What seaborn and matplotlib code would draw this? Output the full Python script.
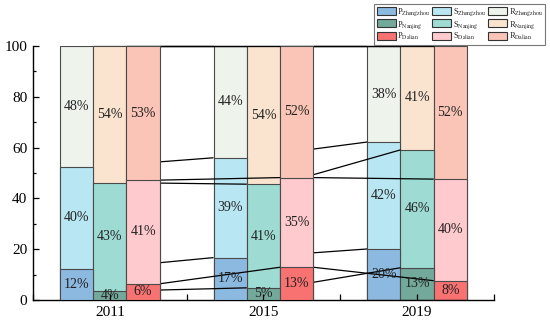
import pandas as pd
import seaborn as sns
import matplotlib.pyplot as plt
from matplotlib.patches import Patch
from matplotlib.ticker import FixedLocator

years = ['2011', '2015', '2019']
cities = ['Zhengzhou', 'Nanjing', 'Dalian']

# shares in % for each city, one value per year
p_zhengzhou = [12.2, 16.7, 20.1]
s_zhengzhou = [40.2, 39.3, 42.1]
r_zhengzhou = [47.6, 44.0, 37.8]
p_nanjing = [3.6, 4.8, 12.7]
s_nanjing = [42.6, 40.8, 46.4]
r_nanjing = [53.8, 54.4, 40.9]
p_dalian = [6.4, 12.9, 7.6]
s_dalian = [40.8, 35.3, 40.0]
r_dalian = [52.8, 51.8, 52.4]

p_colors = {'Zhengzhou': '#8cb9e0', 'Nanjing': '#73a99a', 'Dalian': '#f87272'}
s_colors = {'Zhengzhou': '#b8e6f2', 'Nanjing': '#9ddbd3', 'Dalian': '#fecacd'}
r_colors = {'Zhengzhou': '#eef3ec', 'Nanjing': '#fbe4cf', 'Dalian': '#fac4b6'}

vals = {
    'Zhengzhou': (p_zhengzhou, s_zhengzhou, r_zhengzhou),
    'Nanjing': (p_nanjing, s_nanjing, r_nanjing),
    'Dalian': (p_dalian, s_dalian, r_dalian),
}
rows = []
for c in cities:
    p, s, r = vals[c]
    for i, y in enumerate(years):
        rows.append({'year': y, 'city': c, 'P': p[i], 'S': s[i], 'R': r[i],
                     'ps': p[i] + s[i], 'total': p[i] + s[i] + r[i]})
df = pd.DataFrame(rows)

sns.set_theme(style='ticks')
plt.rcParams['font.family'] = ['Liberation Serif', 'DejaVu Serif']
plt.rcParams['mathtext.fontset'] = 'stix'

fig, ax = plt.subplots(figsize=(5.5, 3.24), dpi=100)
fig.subplots_adjust(left=0.06, right=0.898, bottom=0.074, top=0.858)

W = 0.65
bw = W / 3
edge = '#4a4a4a'
for col, pal in [('total', r_colors), ('ps', s_colors), ('P', p_colors)]:
    sns.barplot(data=df, x='year', y=col, hue='city', order=years, hue_order=cities,
                palette=pal, width=W, gap=0, dodge=True, saturation=1,
                edgecolor=edge, linewidth=0.8, errorbar=None, legend=False, ax=ax)

# earlier years sit on top of the connectors leaving them
zo = [5, 3, 1]
for patch in ax.patches:
    xc = patch.get_x() + patch.get_width() / 2
    patch.set_zorder(zo[int(round(xc))])

# connectors between years
for j, c in enumerate(cities):
    sub = df[df.city == c].set_index('year').loc[years]
    bounds = [sub['P'].values, sub['ps'].values, sub['total'].values]
    for i in range(len(years) - 1):
        x0 = i + (j - 1) * bw + bw / 2
        x1 = i + 1 + (j - 1) * bw - bw / 2
        for b in bounds:
            ax.plot([x0, x1], [b[i], b[i + 1]], color='black', lw=0.9,
                    zorder=[4, 2][i], clip_on=False, solid_capstyle='butt')

# percentage labels
for j, c in enumerate(cities):
    sub = df[df.city == c].set_index('year').loc[years]
    for i, y in enumerate(years):
        p, s, r = sub.loc[y, 'P'], sub.loc[y, 'S'], sub.loc[y, 'R']
        x = i + (j - 1) * bw
        for lo, v in [(0, p), (p, s), (p + s, r)]:
            ax.text(x, lo + v / 2, f'{v:.0f}%', ha='center', va='center',
                    fontsize=10, color='#222222', zorder=10)

ax.set_xlim(-0.5, 2.5)
ax.set_ylim(0, 100)
ax.set_yticks(range(0, 101, 20))
ax.yaxis.set_minor_locator(FixedLocator(range(10, 100, 20)))
ax.xaxis.set_minor_locator(FixedLocator([-0.5, 0.5, 1.5, 2.5]))
ax.xaxis.set_zorder(11)
ax.set_xlabel('')
ax.set_ylabel('')
sns.despine(ax=ax)
for sp in ['left', 'bottom']:
    ax.spines[sp].set_color('black')
    ax.spines[sp].set_linewidth(1.0)
ax.tick_params(which='both', direction='in', colors='black', labelsize=11, width=0.9)
ax.tick_params(which='major', length=4, pad=4)
ax.tick_params(which='minor', length=4)
ax.tick_params(axis='y', which='minor', length=2.5)

handles = []
labels = []
for kind, pal in [('P', p_colors), ('S', s_colors), ('R', r_colors)]:
    for c in cities:
        handles.append(Patch(facecolor=pal[c], edgecolor='#333333', linewidth=0.8))
        labels.append(kind + r'$_{\mathrm{' + c + '}}$')
leg = fig.legend(handles, labels, ncol=3, loc='upper right',
                 bbox_to_anchor=(545 / 550, 1 - 4 / 324), fontsize=6,
                 frameon=True, fancybox=False, edgecolor='#777777', framealpha=1,
                 handlelength=2.3, handleheight=1.1, handletextpad=0.2,
                 columnspacing=0.2, labelspacing=0.05, borderpad=0.3, borderaxespad=0)
leg.get_frame().set_linewidth(0.8)

fig.savefig('out.png', dpi=100)
